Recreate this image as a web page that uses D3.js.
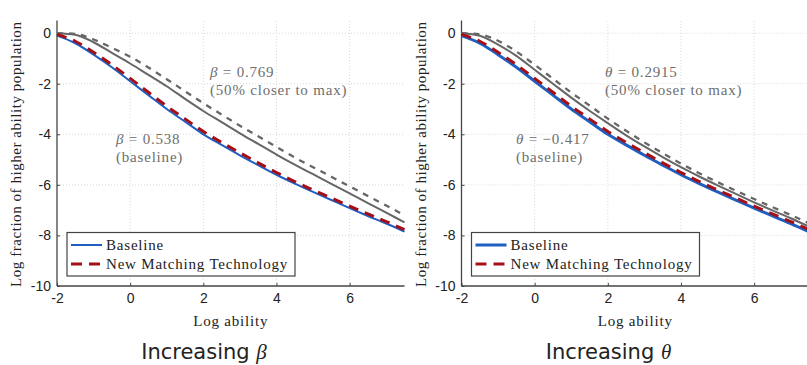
<!DOCTYPE html>
<html>
<head>
<meta charset="utf-8">
<script src="https://cdn.jsdelivr.net/npm/d3@7"></script>
<style>
  html, body { margin: 0; padding: 0; background: #fff; }
  svg { display: block; }
</style>
</head>
<body>
<svg id="chart" width="807" height="365"></svg>
<script>
// ---------------- data ----------------
const logAbility = [-2, -1.5, -1, -0.5, 0, 0.5, 1, 1.5, 2, 2.5, 3, 3.5, 4, 4.5, 5, 5.5, 6, 6.5, 7, 7.5];
const xTicks = [-2, 0, 2, 4, 6];
const yTicks = [0, -2, -4, -6, -8, -10];

// baseline parameters, baseline technology (blue) and new matching technology (red dashed)
const baseline = [-0.10, -0.40, -0.85, -1.35, -1.90, -2.45, -3.00, -3.50, -4.00, -4.42, -4.83, -5.22, -5.60, -5.95, -6.28, -6.60, -6.92, -7.23, -7.53, -7.85];
const newTech  = [-0.05, -0.32, -0.76, -1.25, -1.79, -2.34, -2.89, -3.39, -3.89, -4.32, -4.73, -5.13, -5.51, -5.87, -6.20, -6.52, -6.84, -7.15, -7.45, -7.77];

// increasing beta (gray solid = baseline tech, gray dashed = new tech)
const betaHigh    = [0.00, -0.06, -0.36, -0.78, -1.20, -1.65, -2.10, -2.60, -3.08, -3.52, -3.96, -4.38, -4.80, -5.20, -5.58, -5.96, -6.34, -6.72, -7.10, -7.48];
const betaHighNew = [0.00, -0.03, -0.25, -0.58, -0.93, -1.36, -1.82, -2.30, -2.77, -3.22, -3.66, -4.08, -4.50, -4.92, -5.30, -5.68, -6.06, -6.44, -6.82, -7.20];

// increasing theta
const thetaHigh    = [0.00, -0.10, -0.45, -0.90, -1.45, -2.00, -2.55, -3.07, -3.56, -4.04, -4.48, -4.90, -5.30, -5.67, -6.02, -6.36, -6.69, -7.01, -7.32, -7.65];
const thetaHighNew = [0.00, -0.05, -0.30, -0.73, -1.25, -1.80, -2.35, -2.86, -3.38, -3.86, -4.32, -4.75, -5.16, -5.54, -5.89, -6.23, -6.56, -6.88, -7.19, -7.52];

const legendLabels = ["Baseline", "New Matching Technology"];
const panels = [
  { title: "Increasing ", sym: "β", high: betaHigh, highNew: betaHighNew,
    annHigh: ["0.769", "(50% closer to max)"], annBase: ["0.538", "(baseline)"], blueW: 2 },
  { title: "Increasing ", sym: "θ", high: thetaHigh, highNew: thetaHighNew,
    annHigh: ["0.2915", "(50% closer to max)"], annBase: ["\u22120.417", "(baseline)"], blueW: 3 }
];

// ---------------- drawing ----------------
const svg = d3.select("#chart");
const SERIF = "'Liberation Serif', 'Times New Roman', serif";
const SANS = "'Liberation Sans', Arial, sans-serif";
const BLUE = "#1f5fbf", RED = "#a50f15", GRAY = "#666666", AXIS = "#444";

const panelShift = 404.5;

panels.forEach((p, i) => {
  const ox = i * panelShift;
  const g = svg.append("g").attr("transform", `translate(${ox},0)`);

  const x = d3.scaleLinear().domain([-2, 7.5]).range([57, 404.5]);
  const y = d3.scaleLinear().domain([-10, 0.5]).range([286, 20.5]);

  // grid
  g.append("g").selectAll("line.gx").data(xTicks.slice(1)).join("line")
    .attr("x1", d => x(d)).attr("x2", d => x(d))
    .attr("y1", y(-10)).attr("y2", y(0.5))
    .attr("stroke", "#d9d9d9").attr("stroke-width", 1).attr("stroke-dasharray", "1,2");
  g.append("g").selectAll("line.gy").data(yTicks.slice(0, -1)).join("line")
    .attr("x1", x(-2)).attr("x2", x(7.5))
    .attr("y1", d => y(d)).attr("y2", d => y(d))
    .attr("stroke", "#d9d9d9").attr("stroke-width", 1).attr("stroke-dasharray", "1,2");

  // axes
  const fmt = d => String(d);
  const xAxis = d3.axisBottom(x).tickValues(xTicks).tickSize(-3).tickPadding(7).tickFormat(fmt);
  const yAxis = d3.axisLeft(y).tickValues(yTicks).tickSize(-3).tickPadding(6).tickFormat(fmt);
  const gx = g.append("g").attr("transform", `translate(0,${y(-10)})`).call(xAxis);
  const gy = g.append("g").attr("transform", `translate(${x(-2)},0)`).call(yAxis);
  [gx, gy].forEach(a => {
    a.select(".domain").attr("stroke", AXIS).attr("stroke-width", 1.3);
    a.selectAll(".tick line").attr("stroke", AXIS);
    a.selectAll(".tick text").attr("font-family", SANS).attr("font-size", 14).attr("fill", "#222");
  });
  gx.select(".domain").attr("d", `M${x(-2)},0H${x(7.5)}`);
  gy.select(".domain").attr("d", `M0,${y(-10)}V${y(0.5)}`);

  // lines
  const line = arr => d3.line().curve(d3.curveMonotoneX)
    .x((d, k) => x(logAbility[k])).y(d => y(d))(arr);

  g.append("path").attr("d", line(p.high)).attr("fill", "none")
    .attr("stroke", GRAY).attr("stroke-width", 2);
  g.append("path").attr("d", line(p.highNew)).attr("fill", "none")
    .attr("stroke", GRAY).attr("stroke-width", 2.3).attr("stroke-dasharray", "6,6");
  g.append("path").attr("d", line(baseline)).attr("fill", "none")
    .attr("stroke", BLUE).attr("stroke-width", p.blueW);
  g.append("path").attr("d", line(newTech)).attr("fill", "none")
    .attr("stroke", RED).attr("stroke-width", 3).attr("stroke-dasharray", "10,7");

  // annotations
  const ann = (tx, ty, sym, val, sub) => {
    const t = g.append("text").attr("x", tx).attr("y", ty)
      .attr("font-family", SERIF).attr("font-size", 15).attr("letter-spacing", 0.8).attr("fill", "#6e6e6e");
    t.append("tspan").attr("font-style", "italic").text(sym);
    t.append("tspan").text(" = " + val);
    g.append("text").attr("x", tx).attr("y", ty + 18)
      .attr("font-family", SERIF).attr("font-size", 15).attr("letter-spacing", 0.8).attr("fill", "#6e6e6e")
      .text(sub);
  };
  const hx = i === 0 ? 210 : 605 - panelShift;
  const bx = i === 0 ? 116 : 516 - panelShift;
  ann(hx, 77, p.sym, p.annHigh[0], p.annHigh[1]);
  ann(bx, 144, p.sym, p.annBase[0], p.annBase[1]);

  // axis labels
  g.append("text").attr("x", (x(-2) + x(7.5)) / 2).attr("y", 326)
    .attr("text-anchor", "middle").attr("font-family", SERIF).attr("font-size", 15)
    .attr("letter-spacing", 0.8).attr("fill", "#222").text("Log ability");
  g.append("text").attr("transform", `translate(21,${(y(-10) + y(0.5)) / 2 + 1}) rotate(-90)`)
    .attr("text-anchor", "middle").attr("font-family", SERIF).attr("font-size", 15)
    .attr("letter-spacing", 0.55).attr("fill", "#222").text("Log fraction of higher ability population");

  // title
  const tt = g.append("text").attr("x", 204).attr("y", 359).attr("text-anchor", "middle")
    .attr("font-family", "'DejaVu Sans', sans-serif").attr("font-size", 21).attr("fill", "#222");
  tt.append("tspan").text(p.title);
  tt.append("tspan").attr("font-family", SERIF).attr("font-style", "italic").text(p.sym);

  // legend
  const lg = g.append("g").attr("transform", "translate(67,232.5)");
  lg.append("rect").attr("width", 228).attr("height", 43.5)
    .attr("fill", "#fff").attr("stroke", AXIS).attr("stroke-width", 1.2);
  const items = [
    { label: legendLabels[0], color: BLUE, w: p.blueW, dash: null },
    { label: legendLabels[1], color: RED, w: 3, dash: "11,7" }
  ];
  items.forEach((it, k) => {
    const yy = 12.5 + k * 19;
    lg.append("line").attr("x1", 4).attr("x2", 35).attr("y1", yy).attr("y2", yy)
      .attr("stroke", it.color).attr("stroke-width", it.w)
      .attr("stroke-dasharray", it.dash);
    lg.append("text").attr("x", 39).attr("y", yy + 5)
      .attr("font-family", SERIF).attr("font-size", 15).attr("letter-spacing", 0.8)
      .attr("fill", "#222").text(it.label);
  });
});
</script>
</body>
</html>
